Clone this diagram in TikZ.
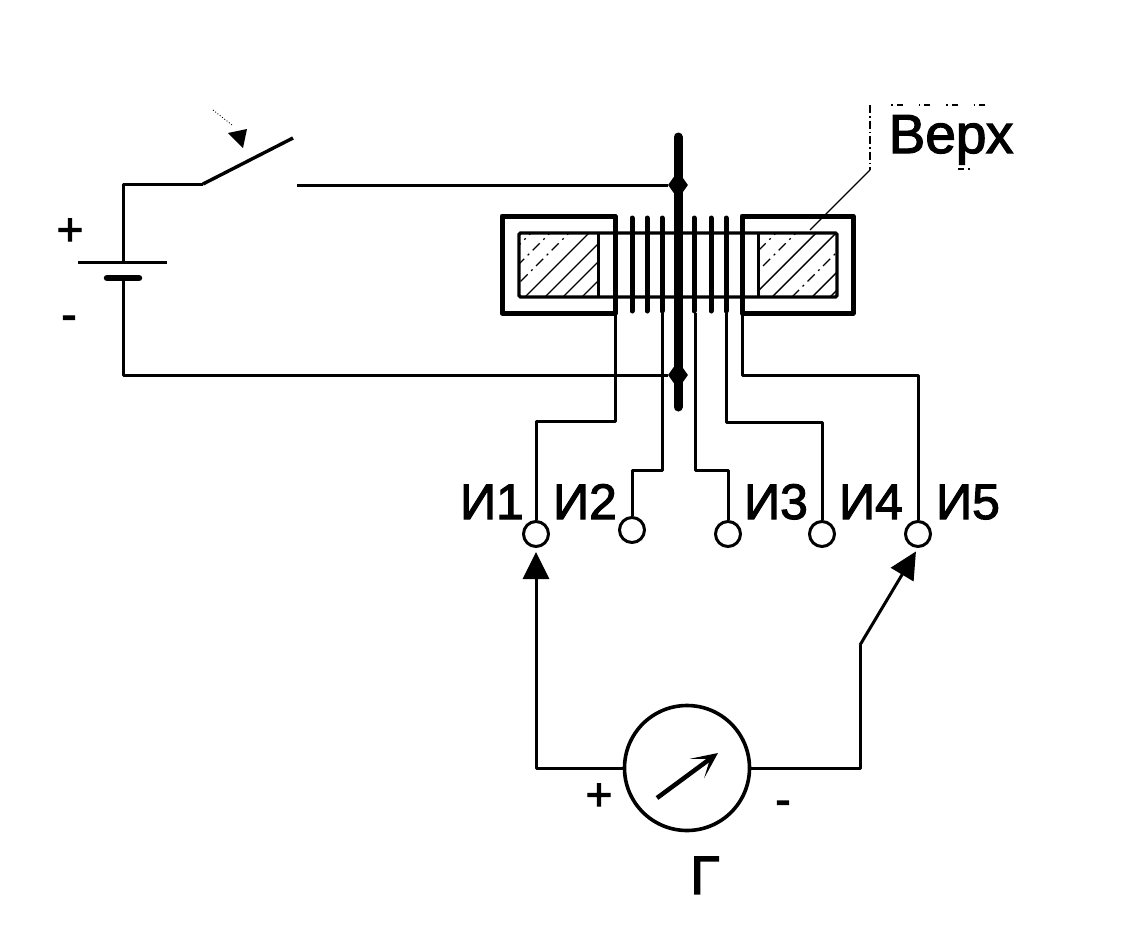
\documentclass[tikz,border=0pt]{standalone}
\usepackage{fontspec}
\setmainfont{Liberation Sans}
\newfontfamily\lab{Liberation Sans}[FakeBold=2.2]
\usetikzlibrary{arrows.meta,shapes.geometric}
\tikzset{
  wire/.style={line width=3pt,line join=round},
  yoke/.style={line width=5pt,line join=round},
  corebox/.style={line width=3.2pt,rounded corners=1.5pt},
  turn/.style={line width=5pt,line cap=round},
  hatchline/.style={line width=1.4pt},
  faintline/.style={line width=1.3pt,dash pattern=on 10pt off 5pt on 2pt off 5pt},
  sparse/.style={line width=1.1pt,dash pattern=on 6pt off 4pt on 1.5pt off 16pt},
  terminal/.style={circle,draw,line width=3pt,minimum size=25pt,inner sep=0pt,fill=white},
  junction/.style={diamond,fill=black,minimum width=20pt,minimum height=28pt,inner sep=0pt},
  lbl/.style={inner sep=0pt,anchor=base,font=\lab\fontsize{50}{52}\selectfont},
  sign/.style={inner sep=0pt,anchor=center,font=\lab\fontsize{46}{48}\selectfont},
  bigtip/.style={-{Triangle[length=27pt,width=26pt]},shorten >=4pt}
}
\begin{document}
\begin{tikzpicture}[x=1pt,y=-1pt]
\useasboundingbox (0,0) rectangle (1128,929);

% hatching
\begin{scope}
\clip (519,233) rectangle (598,297);
\foreach \s in {525,545,563,582} \draw[hatchline] (\s,297) -- ++(70,-70);
\foreach \s in {467,486,505} \draw[faintline] (\s,297) -- ++(110,-110);
\end{scope}
\begin{scope}
\clip (758,233) rectangle (837,297);
\foreach \s in {752,772,812,830} \draw[hatchline] (\s,297) -- ++(70,-70);
\foreach \s in {712,732,792} \draw[faintline] (\s,297) -- ++(110,-110);
\end{scope}

% core and yokes
\node[draw,corebox,minimum width=318pt,minimum height=64pt,inner sep=0pt] (core) at (678,265) {};
\draw[line width=3pt] (598,233) -- (598,297);
\draw[line width=3pt] (758,233) -- (758,297);
\node[draw,yoke,minimum width=113pt,minimum height=97pt,inner sep=0pt] (yokeL) at (558.5,264.5) {};
\node[draw,yoke,minimum width=111pt,minimum height=97pt,inner sep=0pt] (yokeR) at (797.5,264.5) {};

% coil turns
\foreach \x in {632,647,662,694,711,726} \draw[turn] (\x,218) -- (\x,311);

% rod
\coordinate (rodT) at (678,137);
\coordinate (rodB) at (678,407);
\draw[line width=9pt,line cap=round] (rodT) -- (rodB);
\node[junction] (j1) at (678,185) {};
\node[junction] (j2) at (678,375) {};

% terminals
\node[terminal] (t1) at (536,534) {};
\node[terminal] (t2) at (632,530) {};
\node[terminal] (t3) at (728,534) {};
\node[terminal] (t4) at (822,534) {};
\node[terminal] (t5) at (918,534) {};

% meter
\node[circle,draw,line width=3.6pt,minimum size=125pt,inner sep=0pt] (meter) at (687,768) {};
\coordinate (needleA) at (657,798);
\coordinate (needleB) at (718,753);
\draw[line width=4.5pt,-{Stealth[length=26pt,width=24pt,inset=16pt]}] (needleA) -- (needleB);

% battery circuit
\coordinate (plateL) at (78,262);
\coordinate (plateR) at (167,262);
\coordinate (shortL) at (107,278);
\coordinate (shortR) at (139,278);
\coordinate (batTop) at (123,262);
\coordinate (batBot) at (123,278);
\coordinate (swA) at (203,184);
\coordinate (swB) at (293,138);
\coordinate (swC) at (297,185);
\draw[wire] (plateL) -- (plateR);
\draw[line width=6.5pt,line cap=round] (shortL) -- (shortR);
\draw[wire] (batTop) |- (swA);
\draw[line width=3.4pt] (swA) -- (swB);
\draw[wire] (swC) -- (j1);
\draw[wire] (batBot) |- (j2);

% press arrow
\coordinate (prA) at (213,110);
\coordinate (prB) at (232,125);
\draw[line width=0.9pt,dotted] (prA) -- (prB);
\fill (228,133) -- (247,129) -- (243,148) -- cycle;

% winding leads
\draw[wire] (615,313) -- (615,421) -| (t1.north);
\draw[wire] (662,313) -- (662,470) -| (t2.north);
\draw[wire] (695,313) -- (695,470) -| (t3.north);
\draw[wire] (726,313) -- (726,422) -| (t4.north);
\draw[wire] (742,313) -- (742,375) -| (t5.north);

% meter leads
\draw[wire,bigtip] (meter.west) -| (t1.south);
\coordinate (bend) at (860,645);
\draw[wire] (meter.east) -| (bend);
\draw[wire,bigtip] (bend) -- (t5.south);

% labels
\node[lbl] (i1) at (492,519) {И1};
\node[lbl] (i2) at (585,519) {И2};
\node[lbl] (i3) at (776,519) {И3};
\node[lbl] (i4) at (871,519) {И4};
\node[lbl] (i5) at (968,519) {И5};
\node[lbl,font=\lab\fontsize{55}{57}\selectfont] (verh) at (951,153) {Верх};
\node[lbl,font=\lab\fontsize{54}{56}\selectfont] (gamma) at (705,894) {Г};
\node[sign] (bp) at (70,232) {+};
\node[sign] (bm) at (69,323) {-};
\node[sign] (mp) at (599,797) {+};
\node[sign] (mm) at (783,808) {-};

% Верх frame leader
\coordinate (ldA) at (870,105);
\coordinate (ldB) at (870,170);
\coordinate (ldC) at (810,230);
\coordinate (ldD) at (985,105);
\coordinate (ldE) at (958,169);
\coordinate (ldF) at (978,169);
\draw[sparse] (ldD) -- (885,105);
\draw[line width=1.1pt,dash pattern=on 8pt off 3pt on 1.5pt off 3pt] (ldA) -- (ldB);
\draw[line width=1.3pt] (ldB) -- (ldC);
\draw[sparse] (ldE) -- (ldF);
\end{tikzpicture}
\end{document}
